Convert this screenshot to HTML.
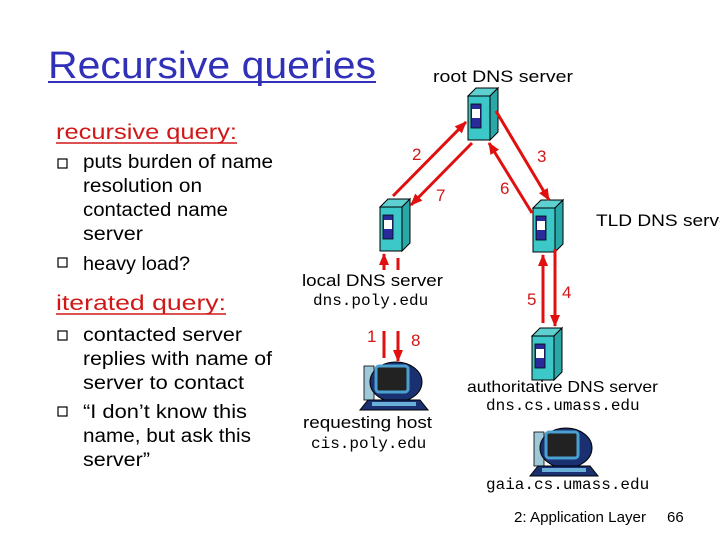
<!DOCTYPE html>
<html><head><meta charset="utf-8"><style>html,body{margin:0;padding:0;background:#fff}svg{display:block}</style></head><body>
<svg width="720" height="540" viewBox="0 0 720 540" xmlns="http://www.w3.org/2000/svg" font-family="Liberation Sans, sans-serif">
<defs>
<marker id="ah" markerWidth="12" markerHeight="12" refX="11" refY="6" orient="auto" markerUnits="userSpaceOnUse"><path d="M0,1 L12,6 L0,11 z" fill="#e01010"/></marker>
<g id="srv">
<polygon points="0,8 8,0 30,0 22,8" fill="#5fd0d0" stroke="#000" stroke-width="1"/>
<polygon points="22,8 30,0 30,44 22,52" fill="#2aa8a8" stroke="#000" stroke-width="1"/>
<rect x="0" y="8" width="22" height="44" fill="#3cc8c8" stroke="#000" stroke-width="1"/>
<rect x="3" y="16" width="10" height="24" fill="#2a2a9a" stroke="#000" stroke-width="0.8"/>
<rect x="4" y="21" width="8" height="9" fill="#fff"/>
</g>
<g id="pc">
<rect x="6" y="6" width="10" height="34" fill="#9fc8d8" stroke="#000" stroke-width="0.8"/>
<ellipse cx="38" cy="22" rx="26" ry="20" fill="#1a3070" stroke="#000"/>
<rect x="18" y="6" width="32" height="26" rx="3" fill="#222" stroke="#4aa0d0" stroke-width="3"/>
<polygon points="10,40 62,40 70,50 2,50" fill="#1a3070" stroke="#000"/>
<rect x="14" y="42" width="44" height="4" fill="#6ab0d8"/>
</g>
</defs>
<text x="48" y="78" font-size="38" fill="#3030b8" textLength="328" lengthAdjust="spacingAndGlyphs">Recursive queries</text>
<line x1="48" y1="82" x2="376" y2="82" stroke="#3030b8" stroke-width="2"/>
<g font-size="21" fill="#d01818">
<text x="56" y="139" textLength="181" lengthAdjust="spacingAndGlyphs">recursive query:</text>
<line x1="56" y1="143" x2="237" y2="143" stroke="#d01818" stroke-width="1.5"/>
<text x="56" y="310" textLength="170" lengthAdjust="spacingAndGlyphs">iterated query:</text>
<line x1="56" y1="314" x2="226" y2="314" stroke="#d01818" stroke-width="1.5"/>
</g>
<g fill="none" stroke="#000" stroke-width="1.2">
<rect x="58" y="159" width="9" height="9"/><rect x="58" y="258" width="9" height="9"/>
<rect x="58" y="331" width="9" height="9"/><rect x="58" y="407" width="9" height="9"/>
</g>
<g font-size="19" fill="#000">
<text x="83" y="168" textLength="190" lengthAdjust="spacingAndGlyphs">puts burden of name</text>
<text x="83" y="192" textLength="119" lengthAdjust="spacingAndGlyphs">resolution on</text>
<text x="83" y="216" textLength="145" lengthAdjust="spacingAndGlyphs">contacted name</text>
<text x="83" y="240" textLength="60" lengthAdjust="spacingAndGlyphs">server</text>
<text x="83" y="270" textLength="107" lengthAdjust="spacingAndGlyphs">heavy load?</text>
<text x="83" y="341" textLength="159" lengthAdjust="spacingAndGlyphs">contacted server</text>
<text x="83" y="365" textLength="189" lengthAdjust="spacingAndGlyphs">replies with name of</text>
<text x="83" y="389" textLength="161" lengthAdjust="spacingAndGlyphs">server to contact</text>
<text x="83" y="418" textLength="164" lengthAdjust="spacingAndGlyphs">“I don’t know this</text>
<text x="83" y="442" textLength="168" lengthAdjust="spacingAndGlyphs">name, but ask this</text>
<text x="83" y="466" textLength="67" lengthAdjust="spacingAndGlyphs">server”</text>
</g>
<use href="#srv" x="468" y="88"/>
<use href="#srv" x="380" y="199"/>
<use href="#srv" x="533" y="200"/>
<use href="#srv" x="532" y="328"/>
<use href="#pc" x="358" y="360"/>
<use href="#pc" x="528" y="426"/>
<g stroke="#e01010" stroke-width="3" marker-end="url(#ah)">
<line x1="393" y1="196" x2="466" y2="122"/>
<line x1="472" y1="143" x2="411" y2="205"/>
<line x1="496" y1="111" x2="549" y2="200"/>
<line x1="532" y1="213" x2="489" y2="143"/>
<line x1="543" y1="323" x2="543" y2="255"/>
<line x1="555" y1="249" x2="555" y2="326"/>
<line x1="384" y1="270" x2="384" y2="254"/>
<line x1="398" y1="331" x2="398" y2="361"/>
</g>
<g stroke="#e01010" stroke-width="3">
<line x1="384" y1="358" x2="384" y2="331"/>
<line x1="398" y1="258" x2="398" y2="270"/>
</g>
<g font-size="17" fill="#d01818">
<text x="412" y="160">2</text><text x="537" y="162">3</text>
<text x="436" y="201">7</text><text x="500" y="194">6</text>
<text x="527" y="305">5</text><text x="562" y="298">4</text>
<text x="367" y="342">1</text><text x="411" y="346">8</text>
</g>
<g font-size="17" fill="#000">
<text x="433" y="82" textLength="140" lengthAdjust="spacingAndGlyphs">root DNS server</text>
<text x="596" y="226" textLength="140" lengthAdjust="spacingAndGlyphs">TLD DNS server</text>
<text x="302" y="286" textLength="141" lengthAdjust="spacingAndGlyphs">local DNS server</text>
<text x="303" y="428" textLength="129" lengthAdjust="spacingAndGlyphs">requesting host</text>
<text x="467" y="392" font-size="16" textLength="191" lengthAdjust="spacingAndGlyphs">authoritative DNS server</text>
<text x="514" y="522" font-size="15" textLength="132" lengthAdjust="spacingAndGlyphs">2: Application Layer</text>
<text x="667" y="522" font-size="15">66</text>
</g>
<g font-family="Liberation Mono, monospace" font-size="16" fill="#000">
<text x="313" y="305">dns.poly.edu</text>
<text x="311" y="448">cis.poly.edu</text>
<text x="486" y="410">dns.cs.umass.edu</text>
<text x="486" y="489">gaia.cs.umass.edu</text>
</g>
</svg>
</body></html>
